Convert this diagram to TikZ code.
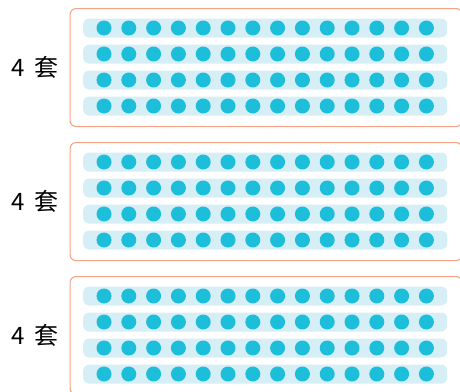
\documentclass[tikz,border=0pt]{standalone}
\usepackage{fontspec}
\newfontfamily\cjk{Noto Sans CJK SC}
\usetikzlibrary{positioning}
\definecolor{boxorange}{RGB}{245,163,135}
\definecolor{barblue}{RGB}{214,238,245}
\definecolor{beadcyan}{RGB}{29,190,218}

\begin{document}
\begin{tikzpicture}[
        x=1pt, y=-1pt,
        group/.style={draw=boxorange, line width=1.1pt, rounded corners=6pt, minimum width=392pt, minimum height=118pt, anchor=north west, inner sep=0pt},
        bar/.style={fill=barblue, rounded corners=6pt, minimum width=364pt, minimum height=19pt, anchor=west, inner sep=0pt},
        bead/.style={circle, fill=beadcyan, minimum size=15pt, inner sep=0pt},
        count/.style={font=\cjk\fontsize{24pt}{24pt}\selectfont, inner sep=0pt}
    ]
        \useasboundingbox (0,0) rectangle (460,391);
        \clip (0,0) rectangle (460,391);

        % Three groups of 4 sets
        \foreach \g in {1,2,3} {
            \pgfmathsetmacro\gtop{8+134*(\g-1)}
            \node[group] (grp\g) at (69.5,\gtop) {};
            \node[count, left=11pt of grp\g] (num\g) {4\hspace{9pt}套};
            % Rows of beads
            \foreach \r in {1,...,4} {
                \node[bar] (bar\g\r) at (83,{\gtop+20+26*(\r-1)}) {};
                \foreach \c in {1,...,14}
                    \node[bead] (bead\g\r\c) at ({104+24.8*(\c-1)},{\gtop+20+26*(\r-1)}) {};
            }
        }

    \end{tikzpicture}
\end{document}
